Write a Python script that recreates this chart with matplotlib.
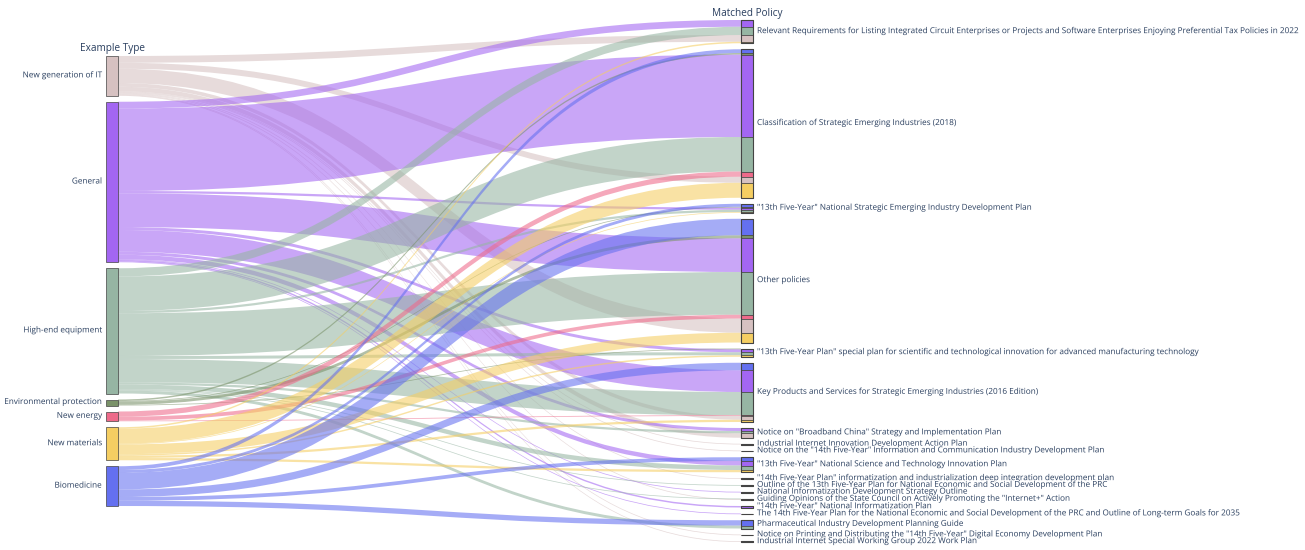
import numpy as np
import matplotlib.pyplot as plt
from matplotlib.path import Path
from matplotlib.patches import PathPatch, Rectangle
import matplotlib.patheffects as pe

# ---- data ----
sources = ["New generation of IT", "General", "High-end equipment",
           "Environmental protection", "New energy", "New materials", "Biomedicine"]

targets = [
    "Relevant Requirements for Listing Integrated Circuit Enterprises or Projects and Software Enterprises Enjoying Preferential Tax Policies in 2022",
    "Classification of Strategic Emerging Industries (2018)",
    "\"13th Five-Year\" National Strategic Emerging Industry Development Plan",
    "Other policies",
    "\"13th Five-Year Plan\" special plan for scientific and technological innovation for advanced manufacturing technology",
    "Key Products and Services for Strategic Emerging Industries (2016 Edition)",
    "Notice on \"Broadband China\" Strategy and Implementation Plan",
    "Industrial Internet Innovation Development Action Plan",
    "Notice on the \"14th Five-Year\" Information and Communication Industry Development Plan",
    "\"13th Five-Year\" National Science and Technology Innovation Plan",
    "\"14th Five-Year Plan\" informatization and industrialization deep integration development plan",
    "Outline of the 13th Five-Year Plan for National Economic and Social Development of the PRC",
    "National Informatization Development Strategy Outline",
    "Guiding Opinions of the State Council on Actively Promoting the \"Internet+\" Action",
    "\"14th Five-Year\" National Informatization Plan",
    "The 14th Five-Year Plan for the National Economic and Social Development of the PRC and Outline of Long-term Goals for 2035",
    "Pharmaceutical Industry Development Planning Guide",
    "Notice on Printing and Distributing the \"14th Five-Year\" Digital Economy Development Plan",
    "Industrial Internet Special Working Group 2022 Work Plan",
]

# number of examples per source, one value per target (same order as targets)
it_vals        = [9, 8, 0, 19, 0, 5, 6, 1, 1, 0, 1, 0, 0, 1, 0, 0, 0, 1, 1]
general_vals   = [9, 110, 3, 45, 4, 29, 4, 0, 0, 6, 0, 0, 1, 0, 2, 1, 0, 0, 0]
highend_vals   = [11, 46, 3, 57, 4, 31, 3, 0, 0, 6, 0, 1, 0, 1, 0, 0, 4, 0, 0]
env_vals       = [0, 2, 1, 4, 1, 0, 0, 0, 0, 0, 0, 0, 0, 0, 0, 0, 0, 0, 0]
energy_vals    = [0, 7, 0, 5, 0, 1, 0, 0, 0, 0, 0, 0, 0, 0, 0, 0, 0, 0, 0]
materials_vals = [2, 20, 1, 13, 2, 3, 0, 0, 0, 3, 0, 0, 0, 0, 0, 0, 0, 0, 0]
bio_vals       = [0, 5, 4, 22, 0, 10, 0, 0, 0, 5, 0, 0, 0, 0, 0, 0, 7, 0, 0]

source_colors = ["#d6c1c1", "#a366f2", "#96b5a3", "#7a9269", "#ee6a8a", "#f5ce62", "#6470f0"]

# ---- layout ----
values = np.array([it_vals, general_vals, highend_vals, env_vals,
                   energy_vals, materials_vals, bio_vals], dtype=float)
W, H = 1305, 550
PX_PER_UNIT = 0.75
GAP = 6
NODE_W = 12
X_SRC, X_TGT = 106, 741
CENTER_Y = 281
TEXT = "#2a3f5f"
EDGE = "#444444"
FONT = "Open Sans"
LABEL_SIZE = 5.9

src_tot = values.sum(axis=1)
tgt_tot = values.sum(axis=0)


def stack(totals):
    h = totals * PX_PER_UNIT
    full = h.sum() + GAP * (len(h) - 1)
    tops = CENTER_Y - full / 2 + np.concatenate([[0], np.cumsum(h[:-1] + GAP)])
    return tops, h


src_top, src_h = stack(src_tot)
tgt_top, tgt_h = stack(tgt_tot)

# at targets links stack in alphabetical order of the source name
alpha_order = sorted(range(len(sources)), key=lambda i: sources[i])

src_off = src_top.copy()
src_seg = {}
for i in range(len(sources)):
    for j in range(len(targets)):
        v = values[i, j] * PX_PER_UNIT
        if v > 0:
            src_seg[(i, j)] = (src_off[i], src_off[i] + v)
            src_off[i] += v

tgt_off = tgt_top.copy()
tgt_seg = {}
for j in range(len(targets)):
    for i in alpha_order:
        v = values[i, j] * PX_PER_UNIT
        if v > 0:
            tgt_seg[(i, j)] = (tgt_off[j], tgt_off[j] + v)
            tgt_off[j] += v

fig = plt.figure(figsize=(W / 100, H / 100), dpi=100)
ax = fig.add_axes([0, 0, 1, 1])
ax.set_xlim(0, W)
ax.set_ylim(H, 0)
ax.axis("off")

x0 = X_SRC + NODE_W
x1 = X_TGT
xm = (x0 + x1) / 2
for (i, j), (a0, b0) in src_seg.items():
    a1, b1 = tgt_seg[(i, j)]
    verts = [(x0, a0), (xm, a0), (xm, a1), (x1, a1),
             (x1, b1), (xm, b1), (xm, b0), (x0, b0), (x0, a0)]
    codes = [Path.MOVETO, Path.CURVE4, Path.CURVE4, Path.CURVE4,
             Path.LINETO, Path.CURVE4, Path.CURVE4, Path.CURVE4, Path.CLOSEPOLY]
    ax.add_patch(PathPatch(Path(verts, codes), facecolor=source_colors[i],
                           edgecolor="none", alpha=0.58, zorder=1))

stroke = [pe.withStroke(linewidth=1.2, foreground="white")]

# source nodes
for i, name in enumerate(sources):
    ax.add_patch(Rectangle((X_SRC, src_top[i]), NODE_W, src_h[i],
                           facecolor=source_colors[i], edgecolor=EDGE, lw=0.5, zorder=3))
    ax.text(X_SRC - 4, src_top[i] + src_h[i] / 2, name, ha="right", va="center",
            fontsize=LABEL_SIZE, color=TEXT, family=FONT, path_effects=stroke, zorder=4)

# target nodes, striped by source
for j, name in enumerate(targets):
    for i in alpha_order:
        if (i, j) in tgt_seg:
            a, b = tgt_seg[(i, j)]
            ax.add_patch(Rectangle((X_TGT, a), NODE_W, b - a, facecolor=source_colors[i],
                                   edgecolor=EDGE, lw=0.5, zorder=3))
    ax.add_patch(Rectangle((X_TGT, tgt_top[j]), NODE_W, tgt_h[j], facecolor="none",
                           edgecolor=EDGE, lw=0.8, zorder=3))
    ax.text(X_TGT + NODE_W + 4, tgt_top[j] + tgt_h[j] / 2, name, ha="left", va="center",
            fontsize=LABEL_SIZE, color=TEXT, family=FONT, path_effects=stroke, zorder=4)

ax.text(X_SRC + NODE_W / 2, src_top[0] - 2, "Example Type", ha="center", va="bottom",
        fontsize=7.2, color=TEXT, family=FONT)
ax.text(X_TGT + NODE_W / 2, tgt_top[0] - 1, "Matched Policy", ha="center", va="bottom",
        fontsize=7.2, color=TEXT, family=FONT)

fig.savefig("out.png", dpi=100)
